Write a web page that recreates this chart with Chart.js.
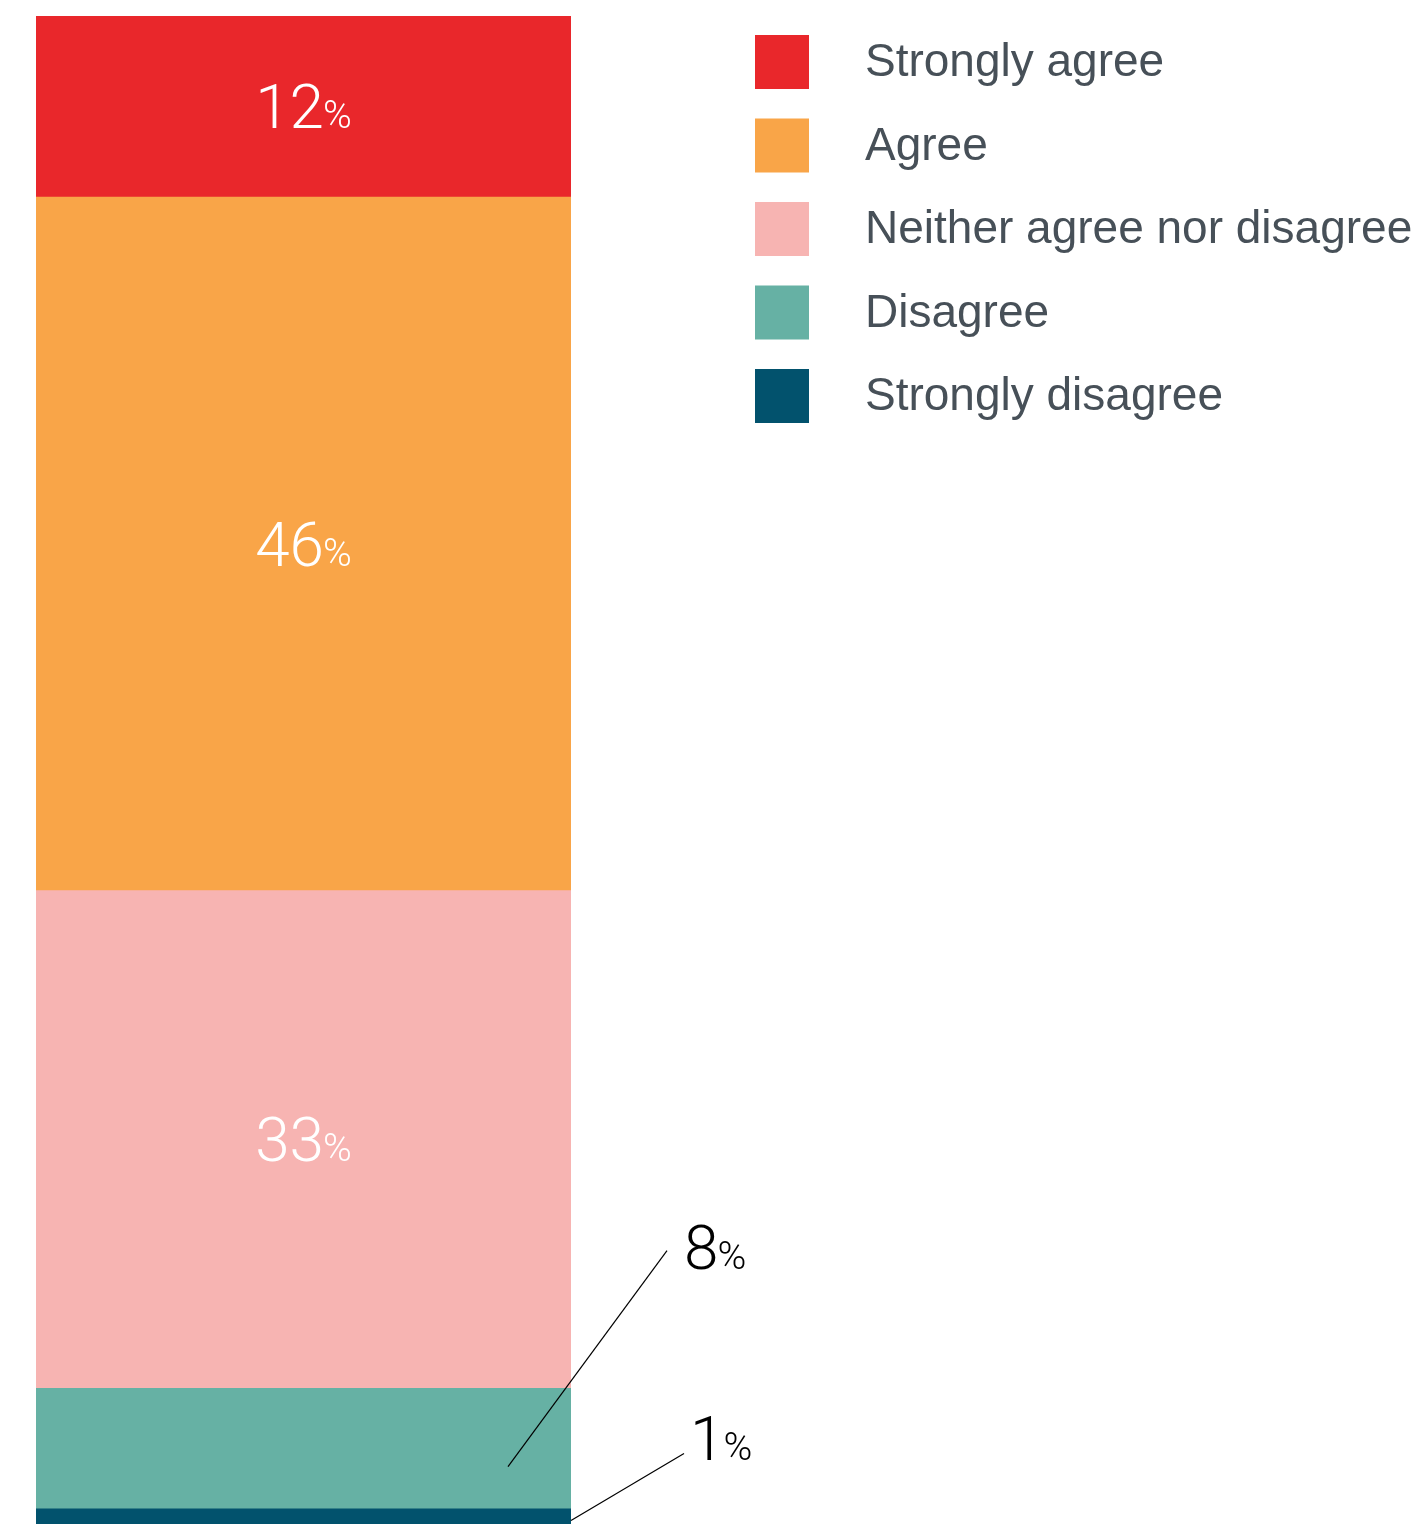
<!DOCTYPE html>
<html>
<head>
<meta charset="utf-8">
<script src="https://cdn.jsdelivr.net/npm/chart.js@4.4.1/dist/chart.umd.min.js"></script>
<style>
body{margin:0;background:#fff}
#wrap{width:1414px;height:1524px;position:relative}
</style>
</head>
<body>
<div id="wrap"><canvas id="chart"></canvas></div>
<script>
// answers, top of the bar first
const risposte = ['Strongly agree', 'Agree', 'Neither agree nor disagree', 'Disagree', 'Strongly disagree'];
const percentuali = [12, 46, 33, 8, 1];
const colori = ['#e9272b', '#f9a548', '#f7b4b2', '#66b1a4', '#02526d'];

const canvas = document.getElementById('chart');
const fontNum = '300 62px Roboto, "Liberation Sans", sans-serif';
const fontPct = '300 39px Roboto, "Liberation Sans", sans-serif';

// stacked bars start from the bottom, so the order is reversed
function getDatasets(){
    let ans = [];
    for(let i = risposte.length - 1; i >= 0; i--){
        ans.push({
            label: risposte[i],
            data: [percentuali[i]],
            backgroundColor: colori[i],
            borderWidth: 0,
            barPercentage: 1,
            categoryPercentage: 1
        });
    }
    return ans;
}

// number + small percent sign, x is the left edge
function drawPct(ctx, v, x, y, color){
    ctx.fillStyle = color;
    ctx.textBaseline = 'alphabetic';
    ctx.textAlign = 'left';
    ctx.font = fontNum;
    ctx.fillText(String(v), x, y);
    let w = ctx.measureText(String(v)).width;
    ctx.font = fontPct;
    ctx.fillText('%', x + w - 1, y);
}

function pctWidth(ctx, v){
    ctx.font = fontNum;
    let w = ctx.measureText(String(v)).width;
    ctx.font = fontPct;
    return w - 1 + ctx.measureText('%').width;
}

// value labels: inside the big segments, with a leader line for the small ones
const etichette = {
    id: 'etichette',
    afterDatasetsDraw(chart){
        const ctx = chart.ctx;
        ctx.save();
        chart.data.datasets.forEach((ds, i) => {
            const el = chart.getDatasetMeta(i).data[0];
            const v = ds.data[0];
            const mid = (el.y + el.base) / 2;
            const right = el.x + el.width / 2;
            if(v >= 10){
                drawPct(ctx, v, el.x - pctWidth(ctx, v) / 2, mid + 22, '#ffffff');
            }
            else{
                let line, lab;
                if(v >= 5){
                    line = [[right + 96, mid - 198], [right - 63, mid + 18]];
                    lab = [right + 113, mid - 180];
                }
                else{
                    line = [[right + 113, mid - 63], [right, mid + 4]];
                    lab = [right + 119, mid - 56];
                }
                ctx.strokeStyle = '#000';
                ctx.lineWidth = 1.2;
                ctx.beginPath();
                ctx.moveTo(line[0][0], line[0][1]);
                ctx.lineTo(line[1][0], line[1][1]);
                ctx.stroke();
                drawPct(ctx, v, lab[0], lab[1], '#000000');
            }
        });
        ctx.restore();
    }
};

// legend on the right of the bar
const legenda = {
    id: 'legenda',
    afterDraw(chart){
        const ctx = chart.ctx;
        const x0 = chart.chartArea.right + 184;
        ctx.save();
        for(let i = 0; i < risposte.length; i++){
            let y = 35 + i * 83.5;
            ctx.fillStyle = colori[i];
            ctx.fillRect(x0, y, 54, 54);
            ctx.fillStyle = '#475058';
            ctx.font = '46px "Liberation Sans", Arial, sans-serif';
            ctx.textBaseline = 'alphabetic';
            ctx.textAlign = 'left';
            ctx.fillText(risposte[i], x0 + 110, y + 41);
        }
        ctx.restore();
    }
};

function createChart(){
    return new Chart(canvas, {
        type: 'bar',
        data: {labels: [''], datasets: getDatasets()},
        options: {
            responsive: true,
            maintainAspectRatio: false,
            animation: false,
            layout: {padding: {left: 36, right: 843, top: 16, bottom: 0}},
            scales: {
                x: {stacked: true, display: false},
                y: {stacked: true, display: false, min: 0, max: 100}
            },
            plugins: {
                legend: {display: false},
                tooltip: {enabled: false}
            }
        },
        plugins: [etichette, legenda]
    });
}

document.fonts.load(fontNum).finally(() => {
    createChart();
});
</script>
</body>
</html>
